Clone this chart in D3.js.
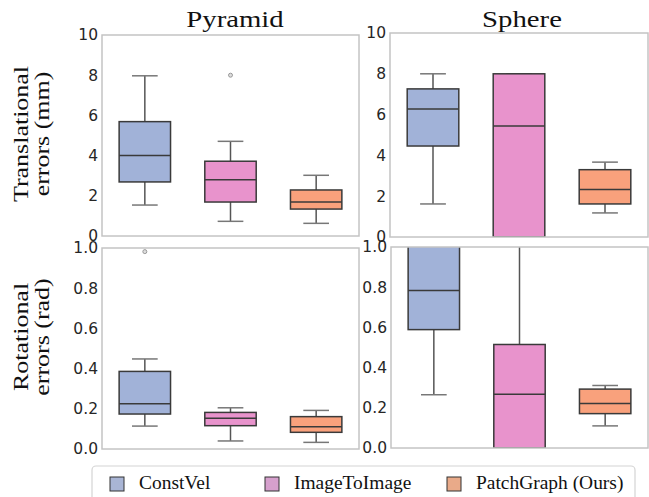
<!DOCTYPE html>
<html>
<head>
<meta charset="utf-8">
<script src="https://cdn.jsdelivr.net/npm/d3@7"></script>
<style>
  body { margin: 0; background: #fff; }
  svg { display: block; }
</style>
</head>
<body>
<svg id="chart" width="649" height="497"></svg>
<script>
var width = 649,
    height = 497;

// Categories (methods) and their colours
var methods = ["ConstVel", "ImageToImage", "PatchGraph (Ours)"];
var boxColors = ["#a1b2d8", "#e893cc", "#f9a17c"];
var legendColors = ["#a9b5d5", "#d6a0cd", "#e9aa89"];

// Box stats per method: [lower whisker, q1, median, q3, upper whisker]
var pyramidTrans = [[1.54, 2.69, 4.01, 5.69, 7.97], [0.73, 1.69, 2.80, 3.72, 4.71], [0.63, 1.34, 1.69, 2.29, 3.02]];
var pyramidTransOut = [[], [8.0], []];
var sphereTrans = [[1.62, 4.46, 6.27, 7.26, 8.0], [0, 0, 5.44, 8.0, 8.0], [1.18, 1.62, 2.33, 3.30, 3.67]];
var sphereTransOut = [[], [], []];
var pyramidRot = [[0.114, 0.174, 0.225, 0.386, 0.448], [0.04, 0.116, 0.153, 0.182, 0.205], [0.033, 0.083, 0.111, 0.161, 0.192]];
var pyramidRotOut = [[0.982], [], []];
var sphereRot = [[0.265, 0.589, 0.783, 1.25, 1.9], [0, 0, 0.268, 0.515, 1.4], [0.11, 0.171, 0.222, 0.293, 0.311]];
var sphereRotOut = [[], [], []];

var transTicks = [0, 2, 4, 6, 8, 10];
var rotTicks = [0, 0.2, 0.4, 0.6, 0.8, 1.0];

var svg = d3.select("#chart");

// serif text is stretched a bit so it takes the width of the original (Computer Modern) text
function widen(sel, k) {
  sel.each(function() {
    var w = this.getComputedTextLength();
    d3.select(this).attr("textLength", w * k).attr("lengthAdjust", "spacingAndGlyphs");
  });
}

var panels = [
  {x0: 102, x1: 359, y0: 35, y1: 236, stats: pyramidTrans, out: pyramidTransOut, max: 10, ticks: transTicks, fmt: d3.format("d")},
  {x0: 390, x1: 648, y0: 33, y1: 237, stats: sphereTrans, out: sphereTransOut, max: 10, ticks: transTicks, fmt: d3.format("d")},
  {x0: 102, x1: 359, y0: 248, y1: 449, stats: pyramidRot, out: pyramidRotOut, max: 1, ticks: rotTicks, fmt: d3.format(".1f")},
  {x0: 391, x1: 648, y0: 247, y1: 448, stats: sphereRot, out: sphereRotOut, max: 1, ticks: rotTicks, fmt: d3.format(".1f")}
];

panels.forEach(function(p, pi) {
  var x = d3.scaleBand().domain(methods).range([p.x0, p.x1]);
  var y = d3.scaleLinear().domain([0, p.max]).range([p.y1, p.y0]);
  var boxW = x.bandwidth() * 0.6;

  var clipId = "clip" + pi;
  svg.append("clipPath").attr("id", clipId)
    .append("rect")
    .attr("x", p.x0).attr("y", p.y0)
    .attr("width", p.x1 - p.x0).attr("height", p.y1 - p.y0);

  var g = svg.append("g").attr("clip-path", "url(#" + clipId + ")");

  methods.forEach(function(m, i) {
    var s = p.stats[i];
    var cx = x(m) + x.bandwidth() / 2;
    // whiskers
    g.append("line")
      .attr("x1", cx).attr("x2", cx)
      .attr("y1", y(s[0])).attr("y2", y(s[1]))
      .attr("stroke", "#555").attr("stroke-width", 1.5);
    g.append("line")
      .attr("x1", cx).attr("x2", cx)
      .attr("y1", y(s[3])).attr("y2", y(s[4]))
      .attr("stroke", "#555").attr("stroke-width", 1.5);
    // caps
    [s[0], s[4]].forEach(function(v) {
      g.append("line")
        .attr("x1", cx - boxW / 4).attr("x2", cx + boxW / 4)
        .attr("y1", y(v)).attr("y2", y(v))
        .attr("stroke", "#777").attr("stroke-width", 1.5);
    });
    // box
    g.append("rect")
      .attr("x", cx - boxW / 2).attr("width", boxW)
      .attr("y", y(s[3])).attr("height", y(s[1]) - y(s[3]))
      .attr("fill", boxColors[i])
      .attr("stroke", "#3a3a3a").attr("stroke-width", 1.5);
    // median
    g.append("line")
      .attr("x1", cx - boxW / 2).attr("x2", cx + boxW / 2)
      .attr("y1", y(s[2])).attr("y2", y(s[2]))
      .attr("stroke", "#3a3a3a").attr("stroke-width", 1.5);
    // outliers
    p.out[i].forEach(function(v) {
      g.append("circle")
        .attr("cx", cx).attr("cy", y(v)).attr("r", 2)
        .attr("fill", "#ddd").attr("stroke", "#999").attr("stroke-width", 1);
    });
  });

  // frame
  svg.append("rect")
    .attr("x", p.x0).attr("y", p.y0)
    .attr("width", p.x1 - p.x0).attr("height", p.y1 - p.y0)
    .attr("fill", "none").attr("stroke", "#c4c4c4").attr("stroke-width", 1.5);

  // y axis
  var ax = svg.append("g")
    .attr("transform", "translate(" + p.x0 + ",0)")
    .call(d3.axisLeft(y).tickValues(p.ticks).tickFormat(p.fmt).tickSize(0).tickPadding(4));
  ax.select(".domain").remove();
  ax.selectAll("text")
    .attr("fill", "#262626")
    .style("font-family", "DejaVu Sans")
    .style("font-size", "15.5px");
});

// column titles
var titles = [{t: "Pyramid", x: 235}, {t: "Sphere", x: 522}];
titles.forEach(function(d) {
  svg.append("text")
    .attr("x", d.x).attr("y", 27)
    .attr("text-anchor", "middle")
    .style("font-family", "Liberation Serif")
    .style("font-size", "23px")
    .attr("fill", "#111")
    .text(d.t)
    .call(widen, 1.25);
});

// row labels
var rowLabels = [
  {lines: ["Translational", "errors (mm)"], cy: 134},
  {lines: ["Rotational", "errors (rad)"], cy: 337}
];
rowLabels.forEach(function(r) {
  r.lines.forEach(function(l, j) {
    svg.append("text")
      .attr("transform", "translate(" + (28 + j * 21) + "," + r.cy + ") rotate(-90)")
      .attr("text-anchor", "middle")
      .style("font-family", "Liberation Serif")
      .style("font-size", "22px")
      .attr("fill", "#111")
      .text(l)
      .call(widen, 1.18);
  });
});

// legend
var legend = svg.append("g");
legend.append("rect")
  .attr("x", 92).attr("y", 466)
  .attr("width", 543).attr("height", 45)
  .attr("rx", 4)
  .attr("fill", "#fff").attr("stroke", "#d4d4d4").attr("stroke-width", 1.2);

var legendX = [110, 265, 447];
methods.forEach(function(m, i) {
  legend.append("rect")
    .attr("x", legendX[i]).attr("y", 477)
    .attr("width", 14).attr("height", 14)
    .attr("fill", legendColors[i])
    .attr("stroke", "#333").attr("stroke-width", 1);
  legend.append("text")
    .attr("x", legendX[i] + 29).attr("y", 489)
    .style("font-family", "Liberation Serif")
    .style("font-size", "18px")
    .attr("fill", "#111")
    .text(m)
    .call(widen, 1.08);
});
</script>
</body>
</html>
